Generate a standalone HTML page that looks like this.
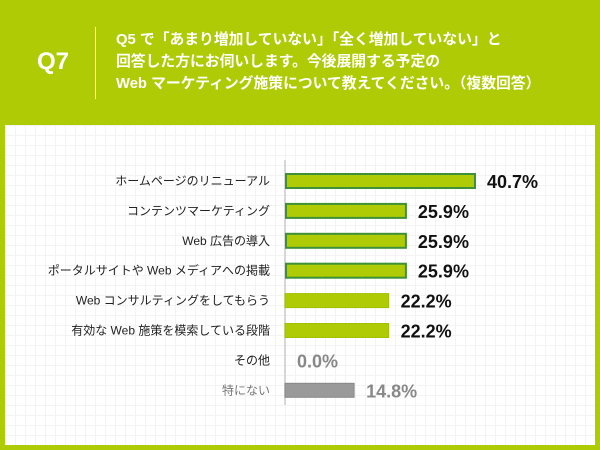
<!DOCTYPE html>
<html><head><meta charset="utf-8"><style>
body{margin:0;width:600px;height:450px;background:#aecb06;position:relative;overflow:hidden;font-family:"Liberation Sans","Noto Sans CJK JP",sans-serif}
.hdr{position:absolute;color:#fff;font-weight:bold}
#panel{position:absolute;left:5px;top:125px;width:590px;height:320px;background:#fff;
background-image:linear-gradient(#f3f3f3 1px,transparent 1px),linear-gradient(90deg,#f3f3f3 1px,transparent 1px);background-size:10px 10px}
</style></head><body>
<div class="hdr" style="left:37px;top:48px;font-size:24px">Q7</div>
<div style="position:absolute;left:95px;top:27px;width:1px;height:72px;background:#fff"></div>
<div class="hdr" style="left:116px;top:29px;font-size:14.8px;line-height:22px;white-space:nowrap">Q5 で「あまり増加していない」「全く増加していない」と<br>回答した方にお伺いします。今後展開する予定の<br>Web マーケティング施策について教えてください。（複数回答）</div>
<div id="panel"></div>
<svg id="chart" width="600" height="450" style="position:absolute;left:0;top:0"></svg>
<script>
const categories=["ホームページのリニューアル","コンテンツマーケティング","Web 広告の導入","ポータルサイトや Web メディアへの掲載","Web コンサルティングをしてもらう","有効な Web 施策を模索している段階","その他","特にない"];
const values=[40.7,25.9,25.9,25.9,22.2,22.2,0.0,14.8];
const labels=["40.7%","25.9%","25.9%","25.9%","22.2%","22.2%","0.0%","14.8%"];
const ns="http://www.w3.org/2000/svg";
const svg=document.getElementById('chart');
const x0=285,scale=190/40.7,y0=181,step=29.9,bh=14;
const x=v=>x0+v*scale, y=i=>y0+i*step;
function mk(t,a){const e=document.createElementNS(ns,t);for(const k in a)e.setAttribute(k,a[k]);svg.appendChild(e);return e;}
const ax=mk('line',{x1:x0,x2:x0,y1:160,y2:405,stroke:'#ccc','stroke-width':1.5});


categories.forEach((c,i)=>{
  const last=i===7;
  const t=mk('text',{x:270,y:y(i)+4,'text-anchor':'end','font-size':12,fill:last?'#777':'#222'});
  t.textContent=c;
  
  
  const border=i<4;
  if(values[i]>0){
    const r=mk('rect',{x:x0+(border?1:0),y:y(i)-bh/2,width:x(values[i])-x0-(border?1:0),height:bh,fill:last?'#9a9a9a':'#aecb06',stroke:border?'#3f9137':(last?'#888':'#a0c000'),'stroke-width':border?2:1});
    
    
  }
  const v=mk('text',{x:x(values[i])+12,y:y(i)+7,'font-size':18,'font-weight':'bold',fill:(i>=6)?'#888':'#111'});
  v.textContent=labels[i];
  
  
});
</script>
</body></html>
